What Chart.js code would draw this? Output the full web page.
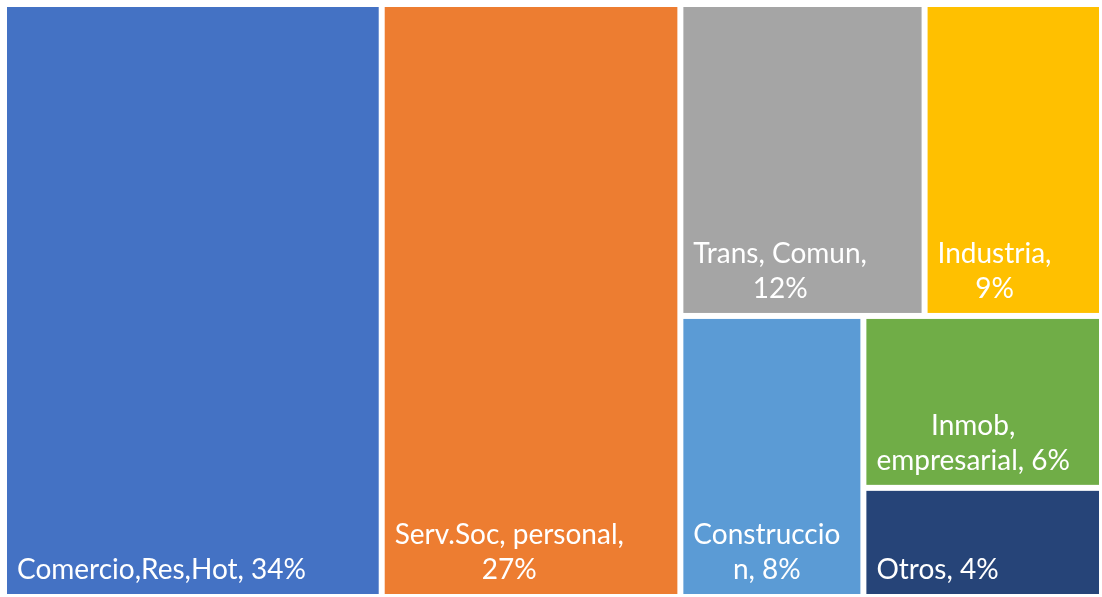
<!DOCTYPE html>
<html>
<head>
<meta charset="utf-8">
<script src="https://cdn.jsdelivr.net/npm/chart.js@4.4.1/dist/chart.umd.min.js"></script>
<style>
  html, body { margin: 0; padding: 0; background: #ffffff; }
  #wrap { width: 1102px; height: 597px; position: relative; }
</style>
</head>
<body>
<div id="wrap"><canvas id="c"></canvas></div>
<script>
// ---- data ----
const categories = ['Comercio,Res,Hot', 'Serv.Soc, personal', 'Trans, Comun', 'Industria', 'Construccion', 'Inmob, empresarial', 'Otros'];
const shares = [34.4, 27.2, 11.7, 8.5, 7.9, 6.3, 4.0];
const colors = ['#4472C4', '#ED7D31', '#A5A5A5', '#FFC000', '#5B9BD5', '#70AD47', '#264478'];

const FONT = '28px Lato';
const LINE_H = 35;
const PAD = 10;
const GAP = 3;

function worst(row, side) {
  const s = row.reduce((a, b) => a + b.area, 0);
  let mx = -Infinity, mn = Infinity;
  row.forEach(b => { mx = Math.max(mx, b.area); mn = Math.min(mn, b.area); });
  return Math.max(side * side * mx / (s * s), (s * s) / (side * side * mn));
}
function layoutRow(row, r, out) {
  const s = row.reduce((a, b) => a + b.area, 0);
  if (r.w >= r.h) {
    const cw = s / r.h; let yy = r.y;
    row.forEach(b => { const hh = b.area / cw; out.push(Object.assign({}, b, {x: r.x, y: yy, w: cw, h: hh})); yy += hh; });
    return {x: r.x + cw, y: r.y, w: r.w - cw, h: r.h};
  } else {
    const rh = s / r.w; let xx = r.x;
    row.forEach(b => { const ww = b.area / rh; out.push(Object.assign({}, b, {x: xx, y: r.y, w: ww, h: rh})); xx += ww; });
    return {x: r.x, y: r.y + rh, w: r.w, h: r.h - rh};
  }
}
function squarify(items, rect) {
  const out = []; let r = Object.assign({}, rect); let row = []; let i = 0;
  while (i < items.length) {
    const side = Math.min(r.w, r.h);
    const it = items[i];
    if (row.length === 0 || worst(row.concat([it]), side) <= worst(row, side)) { row.push(it); i++; }
    else { r = layoutRow(row, r, out); row = []; }
  }
  if (row.length) layoutRow(row, r, out);
  return out;
}
function wrapText(ctx, text, maxW) {
  const words = text.split(' ');
  const lines = []; let cur = '';
  const splitWord = (w) => {
    if (ctx.measureText(w).width <= maxW) return [w];
    const parts = []; let p = '';
    for (const ch of w) {
      if (p && ctx.measureText(p + ch).width > maxW) { parts.push(p); p = ch; } else p += ch;
    }
    if (p) parts.push(p);
    return parts;
  };
  words.forEach(w => {
    const test = cur ? cur + ' ' + w : w;
    if (ctx.measureText(test).width <= maxW) { cur = test; return; }
    if (cur) { lines.push(cur); cur = ''; }
    const parts = splitWord(w);
    for (let k = 0; k < parts.length - 1; k++) lines.push(parts[k]);
    cur = parts[parts.length - 1];
  });
  if (cur) lines.push(cur);
  return lines;
}

const treemapPlugin = {
  id: 'treemap',
  afterDatasetsDraw(chart) {
    const ctx = chart.ctx;
    const xs = chart.scales.x, ys = chart.scales.y;
    const left = xs.getPixelForValue(0), right = xs.getPixelForValue(1);
    const top = ys.getPixelForValue(1), bottom = ys.getPixelForValue(0);
    const W = right - left, H = bottom - top;
    const ds = chart.data.datasets[0];
    const total = ds.data.reduce((a, b) => a + b, 0);
    const items = ds.data.map((v, i) => ({ i, v, area: v / total * W * H }))
      .sort((a, b) => b.v - a.v);
    const rects = squarify(items, {x: left, y: top, w: W, h: H});
    ctx.save();
    rects.forEach(r => {
      const x0 = r.x + GAP, y0 = r.y + GAP, w = r.w - 2 * GAP, h = r.h - 2 * GAP;
      ctx.fillStyle = ds.backgroundColor[r.i];
      ctx.fillRect(x0, y0, w, h);
      const pct = Math.round(r.v / total * 100);
      const text = chart.data.labels[r.i] + ', ' + pct + '%';
      ctx.font = FONT;
      ctx.fillStyle = '#ffffff';
      ctx.textBaseline = 'alphabetic';
      ctx.textAlign = 'center';
      const lines = wrapText(ctx, text, w - 2 * PAD);
      const bw = Math.max(...lines.map(l => ctx.measureText(l).width));
      const cx = x0 + PAD + bw / 2;
      const lastBase = y0 + h - 15;
      lines.forEach((l, k) => {
        ctx.fillText(l, cx, lastBase - (lines.length - 1 - k) * LINE_H);
      });
    });
    ctx.restore();
  }
};

new Chart(document.getElementById('c'), {
  type: 'scatter',
  data: {
    labels: categories,
    datasets: [{ data: shares, backgroundColor: colors, pointRadius: 0, showLine: false }]
  },
  options: {
    responsive: true,
    maintainAspectRatio: false,
    animation: false,
    parsing: false,
    layout: { padding: { left: 4, top: 4, right: 0, bottom: 0 } },
    scales: {
      x: { type: 'linear', min: 0, max: 1, display: false },
      y: { type: 'linear', min: 0, max: 1, display: false }
    },
    plugins: { legend: { display: false }, tooltip: { enabled: false } }
  },
  plugins: [treemapPlugin]
});
</script>
</body>
</html>
